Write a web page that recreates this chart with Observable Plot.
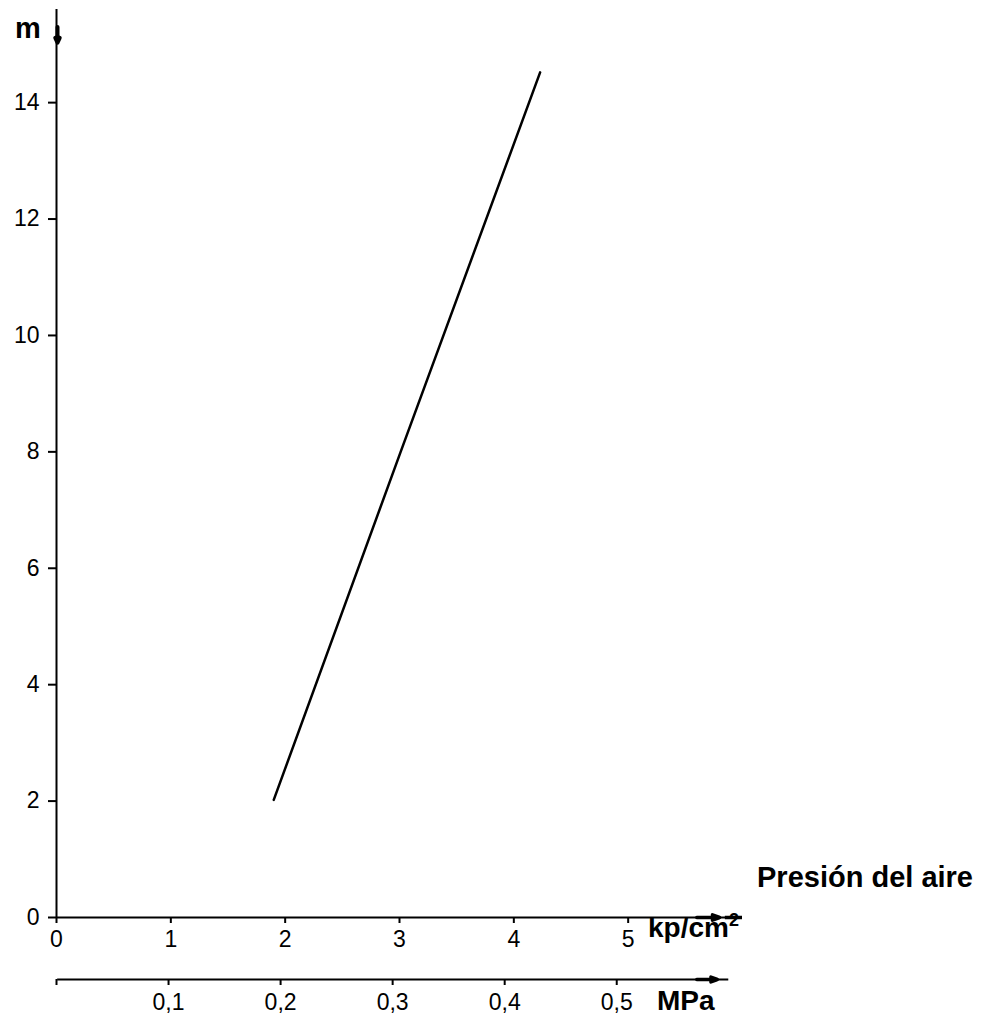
<!DOCTYPE html>
<html>
<head>
<meta charset="utf-8">
<script src="https://cdn.jsdelivr.net/npm/d3@7"></script>
<script src="https://cdn.jsdelivr.net/npm/@observablehq/plot@0.6"></script>
<style>
  html, body { margin: 0; padding: 0; background: #fff; overflow: hidden; }
  #chart { width: 981px; height: 1018px; }
</style>
</head>
<body>
<div id="chart"></div>
<script>
// ---- data ----
const kpTicks = [0, 1, 2, 3, 4, 5];              // kp/cm² axis ticks
const yTicks = [0, 2, 4, 6, 8, 10, 12, 14];      // m axis ticks
const mpaTicks = [0, 0.1, 0.2, 0.3, 0.4, 0.5];   // MPa axis ticks
const kpPerMPa = 9.8;                            // MPa tick placement on kp scale (as drawn)
const pressureKp = [1.90, 3.01, 4.23];           // air pressure, kp/cm²
const heightM = [2.02, 8.0, 14.52];              // height, m

const curve = pressureKp.map((p, i) => ({p, h: heightM[i]}));
const comma = v => d3.format(".1f")(v).replace(".", ",");
const font = "'Liberation Sans', Arial, Helvetica, sans-serif";

const chart = Plot.plot({
  width: 981,
  height: 1018,
  marginLeft: 56,
  marginRight: 239,
  marginTop: 9,
  marginBottom: 101,
  x: {domain: [0, 6]},
  y: {domain: [0, 15.6]},
  style: {fontFamily: font, fontSize: "23px", color: "black", background: "white"},
  marks: [
    Plot.axisY(yTicks, {tickSize: 8, tickPadding: 9, fontSize: 23, strokeWidth: 2, label: null, tickFormat: d => String(d)}),
    Plot.axisX(kpTicks, {tickSize: 6, tickPadding: 7, fontSize: 23, strokeWidth: 2, label: null, tickFormat: d => String(d)}),
    Plot.axisX(mpaTicks.map(v => v * kpPerMPa), {
      tickSize: 6, tickPadding: 8, fontSize: 23, strokeWidth: 2, dy: 62, label: null,
      tickFormat: d => d === 0 ? "" : comma(d / kpPerMPa)
    }),
    // axis lines
    Plot.ruleX([0], {y1: 0, y2: 15.6, strokeWidth: 2}),
    Plot.ruleY([0], {x1: 0, x2: 6, strokeWidth: 2}),
    Plot.ruleY([0], {x1: 0.01, x2: 5.88, dy: 62, strokeWidth: 2}),
    // arrow heads
    Plot.arrow([0], {x1: 0, x2: 0, y1: 15.3, y2: 15.03, stroke: "black", strokeWidth: 4, headLength: 6, headAngle: 50, dx: 1}),
    Plot.arrow([0], {x1: 5.6, x2: 5.8, y1: 0, y2: 0, stroke: "black", strokeWidth: 3.5, headLength: 8, headAngle: 40}),
    Plot.ruleY([0], {x1: 5.85, x2: 6, strokeWidth: 3.5}),
    Plot.arrow([0], {x1: 5.6, x2: 5.78, y1: 0, y2: 0, dy: 62, stroke: "black", strokeWidth: 3.5, headLength: 8, headAngle: 40}),
    // data line
    Plot.line(curve, {x: "p", y: "h", stroke: "black", strokeWidth: 2.5})
  ]
});

const svg = d3.select(chart);
// enforce tick label size
svg.selectAll("g[aria-label$='tick label'] text")
  .style("font-size", "23px")
  .style("font-family", font);

// axis titles
const t = (x, y, size, txt) => svg.append("text")
  .attr("x", x).attr("y", y)
  .attr("text-anchor", "start")
  .attr("font-family", font).attr("font-weight", "bold")
  .attr("font-size", size).attr("fill", "black").text(txt);

t(15, 38, 29, "m");
t(757, 887, 29, "Presión del aire");
const kp = t(648, 937, 28, "kp/cm");
kp.append("tspan").attr("font-size", 18).attr("dy", -11).text("2");
t(657, 1010, 28, "MPa");

document.getElementById("chart").appendChild(chart);
</script>
</body>
</html>
